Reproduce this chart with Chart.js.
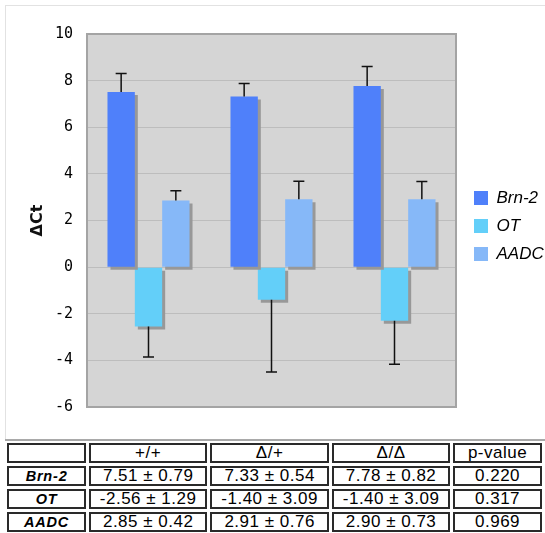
<!DOCTYPE html>
<html>
<head>
<meta charset="utf-8">
<script src="https://cdn.jsdelivr.net/npm/chart.js@4/dist/chart.umd.min.js"></script>
<style>
    body { margin: 0; background: #fff; }
    #wrap { position: relative; width: 545px; height: 533px; overflow: hidden; }
    #frame { position: absolute; left: 5px; top: 5px; width: 545px; height: 434px;
             border-top: 1px solid #e2e2e2; border-left: 1px solid #e2e2e2; }
    #rule { position: absolute; left: 5px; top: 439px; width: 545px; height: 2px; background: #a9a9a9; }
    #chartBox { position: absolute; left: 0; top: 0; width: 545px; height: 430px; }
    #stats { position: absolute; left: 4px; top: 440px; border-collapse: separate; border-spacing: 3px;
             table-layout: fixed; font-family: 'Liberation Sans', Arial, sans-serif; }
    #stats td { box-sizing: border-box; height: 20px; border: 2px solid #2a2a2a; padding: 0;
                text-align: center; vertical-align: middle; font-size: 17px; letter-spacing: 0.5px;
                color: #000; line-height: 16px; }
    #stats td.lab { font-size: 14.5px; font-weight: bold; font-style: italic; letter-spacing: 0.8px; }
</style>
</head>
<body>
<div id="wrap">
    <div id="frame"></div>
    <div id="rule"></div>
    <div id="chartBox"><canvas id="barChart"></canvas></div>
    <table id="stats"></table>
</div>
<script>
// values
var categories = ['+/+', '\u0394/+', '\u0394/\u0394'];
var seriesNames = ['Brn-2', 'OT', 'AADC'];
var brn2Values = [7.51, 7.32, 7.77];
var brn2Errors = [0.80, 0.56, 0.84];
var otValues = [-2.55, -1.40, -2.30];
var otErrors = [1.30, 3.10, 1.87];
var aadcValues = [2.86, 2.91, 2.91];
var aadcErrors = [0.42, 0.77, 0.76];
var seriesColors = ['#4f80fa', '#63cff9', '#86b8f8'];
var yTicks = [-6, -4, -2, 0, 2, 4, 6, 8, 10];

// table under the chart
var tableHeader = ['', '+/+', '\u0394/+', '\u0394/\u0394', 'p-value'];
var brn2Cells = ['7.51 \u00b1 0.79', '7.33 \u00b1 0.54', '7.78 \u00b1 0.82', '0.220'];
var otCells = ['-2.56 \u00b1 1.29', '-1.40 \u00b1 3.09', '-1.40 \u00b1 3.09', '0.317'];
var aadcCells = ['2.85 \u00b1 0.42', '2.91 \u00b1 0.76', '2.90 \u00b1 0.73', '0.969'];
var colWidths = [80, 120, 121, 120, 90];

document.addEventListener('DOMContentLoaded', function () {
    var table = document.getElementById('stats');
    var rows = [tableHeader, [seriesNames[0]].concat(brn2Cells), [seriesNames[1]].concat(otCells), [seriesNames[2]].concat(aadcCells)];
    rows.forEach(function (cells, r) {
        var tr = document.createElement('tr');
        cells.forEach(function (txt, c) {
            var td = document.createElement('td');
            td.textContent = txt;
            td.style.width = colWidths[c] + 'px';
            if (c === 0 && r > 0) td.className = 'lab';
            tr.appendChild(td);
        });
        table.appendChild(tr);
    });

    var plotFrame = {
        id: 'plotFrame',
        beforeDraw: function (chart) {
            var a = chart.chartArea, ctx = chart.ctx;
            ctx.save();
            ctx.fillStyle = '#d5d5d5';
            ctx.fillRect(a.left, a.top, a.right - a.left, a.bottom - a.top);
            ctx.restore();
        },
        beforeDatasetDraw: function (chart) {
            var ctx = chart.ctx;
            ctx.shadowColor = '#989898';
            ctx.shadowOffsetX = 3;
            ctx.shadowOffsetY = 3;
            ctx.shadowBlur = 0;
        },
        afterDatasetDraw: function (chart) {
            var ctx = chart.ctx;
            ctx.shadowColor = 'rgba(0,0,0,0)';
            ctx.shadowOffsetX = 0;
            ctx.shadowOffsetY = 0;
        },
        afterDatasetsDraw: function (chart) {
            var ctx = chart.ctx, yScale = chart.scales.y;
            ctx.save();
            ctx.strokeStyle = '#111';
            ctx.lineWidth = 1.5;
            chart.data.datasets.forEach(function (ds, d) {
                var meta = chart.getDatasetMeta(d);
                meta.data.forEach(function (bar, i) {
                    var v = ds.data[i], e = ds.errors[i];
                    var y0 = yScale.getPixelForValue(v);
                    var y1 = yScale.getPixelForValue(v >= 0 ? v + e : v - e);
                    ctx.beginPath();
                    ctx.moveTo(bar.x, y0);
                    ctx.lineTo(bar.x, y1);
                    ctx.moveTo(bar.x - 5.5, y1);
                    ctx.lineTo(bar.x + 5.5, y1);
                    ctx.stroke();
                });
            });
            ctx.restore();
        },
        afterDraw: function (chart) {
            var a = chart.chartArea, ctx = chart.ctx;
            ctx.save();
            ctx.strokeStyle = '#a4a4a4';
            ctx.lineWidth = 2;
            ctx.strokeRect(a.left, a.top, a.right - a.left, a.bottom - a.top);
            ctx.restore();
        }
    };

    var barCtx = document.getElementById('barChart').getContext('2d');
    new Chart(barCtx, {
        type: 'bar',
        data: {
            labels: categories,
            datasets: [
                { label: seriesNames[0], data: brn2Values, errors: brn2Errors, backgroundColor: seriesColors[0], borderWidth: 0 },
                { label: seriesNames[1], data: otValues, errors: otErrors, backgroundColor: seriesColors[1], borderWidth: 0 },
                { label: seriesNames[2], data: aadcValues, errors: aadcErrors, backgroundColor: seriesColors[2], borderWidth: 0 }
            ]
        },
        options: {
            responsive: true,
            maintainAspectRatio: false,
            animation: { duration: 0 },
            categoryPercentage: 0.667,
            barPercentage: 1.0,
            layout: { padding: { top: 34, bottom: 12, left: 0, right: 0 } },
            plugins: {
                tooltip: { enabled: false },
                legend: {
                    position: 'right',
                    maxWidth: 82,
                    labels: {
                        boxWidth: 14,
                        boxHeight: 14,
                        padding: 11,
                        color: '#000',
                        font: { family: 'Liberation Sans', size: 17, style: 'italic' }
                    }
                }
            },
            scales: {
                x: { display: false },
                y: {
                    min: -6,
                    max: 10,
                    afterBuildTicks: function (scale) {
                        scale.ticks = yTicks.map(function (v) { return { value: v }; });
                    },
                    afterFit: function (scale) { scale.width = 87; },
                    grid: { color: '#bdbdbd', lineWidth: 1, drawTicks: false },
                    border: { display: false },
                    ticks: {
                        padding: 14,
                        color: '#000',
                        font: { family: 'DejaVu Sans Mono', size: 15 }
                    },
                    title: {
                        display: true,
                        text: '\u0394Ct',
                        color: '#111',
                        font: { family: 'DejaVu Sans', size: 16, weight: 'bold' },
                        padding: { top: 28, bottom: 0 }
                    }
                },
                gap: {
                    position: 'right',
                    display: true,
                    afterFit: function (scale) { scale.width = 7; },
                    grid: { display: false, drawTicks: false },
                    border: { display: false },
                    ticks: { display: false }
                }
            }
        },
        plugins: [plotFrame]
    });
});
</script>
</body>
</html>
